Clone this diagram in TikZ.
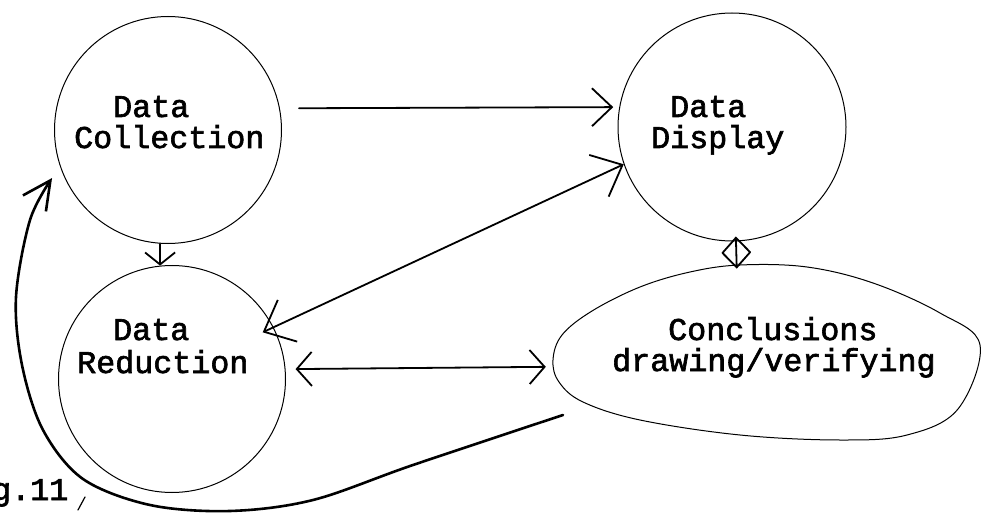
\documentclass[tikz,border=0pt]{standalone}
\usepackage{fontspec}
\newfontfamily\twfont[FakeBold=2]{Liberation Mono}
\usetikzlibrary{arrows.meta,calc,shapes.geometric}
\begin{document}
\begin{tikzpicture}[x=1pt,y=1pt,
  bubble/.style={draw, circle, line width=1pt, minimum size=227pt, inner sep=0pt},
  egg/.style={ellipse, minimum width=430pt, minimum height=178pt, inner sep=0pt},
  outline/.style={line width=1pt},
  lbl/.style={anchor=base west, inner sep=0pt, font=\twfont\fontsize{31.7}{34}\selectfont},
  conn/.style={line width=1.8pt, line cap=round},
  hd/.style 2 args={arrows={-{Straight Barb[length=#1,width=#2]}}},
  bi/.style 2 args={arrows={{Straight Barb[length=#1,width=#2]}-{Straight Barb[length=#1,width=#2]}}},
  fb/.style={line width=2.6pt, line cap=round}
]
\useasboundingbox (0,0) rectangle (983,515);

% shapes
\node[bubble] (coll) at (168,385) {};
\node[bubble] (red) at (172,136) {};
\node[bubble, minimum size=228pt] (disp) at (732,388) {};
\node[egg] (concl) at (767,163) {};
\draw[outline] plot[smooth cycle, tension=0.6] coordinates {
  (553,155) (562,180) (592,204) (640,228) (690,243) (740,250) (807,248)
  (873,232) (940,202) (980,170) (958,106) (907,80) (840,75) (740,80)
  (640,95) (583,113) (559,133)};

% labels
\node[lbl] (collA) at (113,398) {Data};
\node[lbl] (collB) at (74,367) {Collection};
\node[lbl] (redA) at (113,175) {Data};
\node[lbl] (redB) at (77,142) {Reduction};
\node[lbl] (dispA) at (670,398) {Data};
\node[lbl] (dispB) at (651,367) {Display};
\node[lbl] (conclA) at (668,175) {Conclusions};
\node[lbl] (conclB) at (612,144) {drawing/verifying};
\node[lbl] (fig) at (-8,15) {g.11};

% connectors
\draw[conn, hd={20pt}{38pt}] ([xshift=19pt]coll.11) -- ([xshift=-6pt]disp.170);
\draw[conn, bi={26pt}{46pt}] ($(red.27)!-12pt!(disp.199)$) -- (disp.199);
\draw[conn, bi={15pt}{34pt}] ([xshift=10pt]red.5) -- ([xshift=-9pt]concl.184);
\draw[conn, hd={12pt}{30pt}] (coll.266) -- (red.96);
\draw[conn, bi={15pt}{28pt}, shorten <=-5pt, shorten >=-5pt] (concl.109) -- (disp.272);

% feedback loop
\coordinate (fbs) at (563,100);
\coordinate (fbe) at ($(coll.center)+(202.5:125.5)$);
\draw[fb, hd={28pt}{28pt}] plot[smooth, tension=0.55] coordinates {(fbs) (413,50) (313,15) (230,4) (150,10) (83,36) (43,85) (22,150) (16,218) (30,295) (fbe)};

% small tick mark
\draw[line width=1.2pt, line cap=round] (85,18) -- (78,5);
\end{tikzpicture}
\end{document}
